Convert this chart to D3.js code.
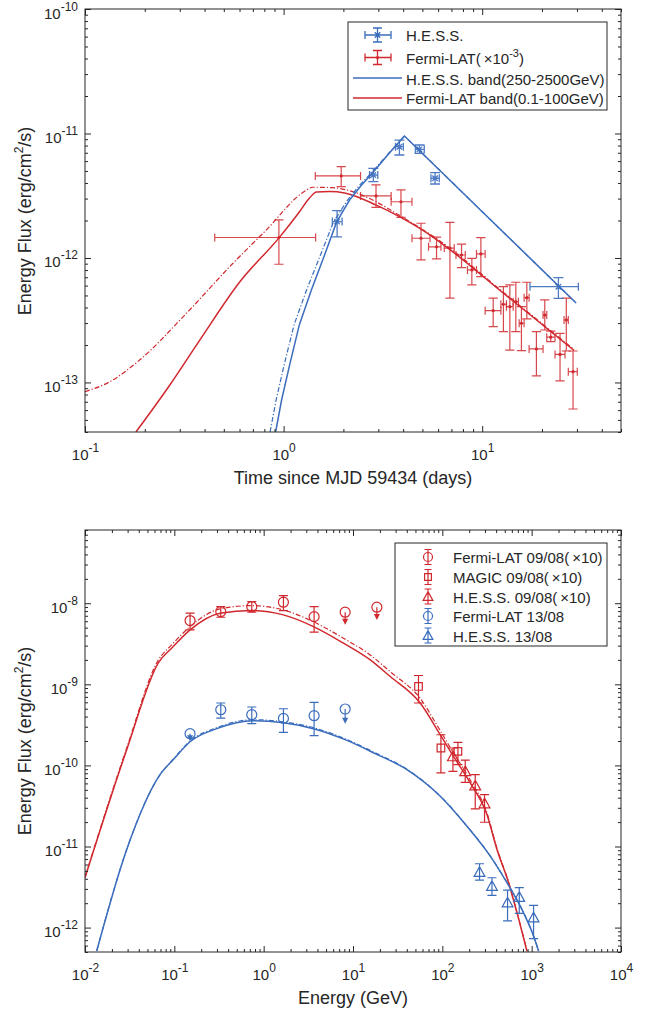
<!DOCTYPE html>
<html>
<head>
<meta charset="utf-8">
<script src="https://cdn.jsdelivr.net/npm/d3@7"></script>
<style>
  body { margin: 0; background: #fff; }
  text { font-family: "Liberation Sans", Arial, Helvetica, sans-serif; }
</style>
</head>
<body>
<svg id="chart" width="660" height="1015"></svg>
<script>
// ---------- top panel: light curve ----------
const hessT   = [1.86, 2.83, 3.83, 4.83, 5.79, 24.2];
const hessTlo = [1.76, 2.71, 3.66, 4.61, 5.52, 17.4];
const hessThi = [1.97, 2.98, 4.01, 5.11, 6.08, 30.5];
const hessF   = [1.96e-12, 4.64e-12, 7.83e-12, 7.46e-12, 4.37e-12, 5.88e-13];
const hessFlo = [1.48e-12, 4.10e-12, 6.72e-12, 6.93e-12, 3.93e-12, 4.74e-13];
const hessFhi = [2.40e-12, 5.25e-12, 8.86e-12, 8.08e-12, 4.84e-12, 6.95e-13];

const fermiT   = [0.947, 1.95, 2.92, 3.90, 4.92, 5.89, 6.88, 7.87, 8.87, 9.85, 11.36,
                  12.79, 13.78, 14.77, 15.76, 16.78, 18.75, 20.66, 22.14, 24.66, 26.52, 28.67];
const fermiTlo = [0.45, 1.444, 2.44, 3.48, 4.43, 5.37, 6.44, 7.38, 8.43, 9.36, 10.35,
                  12.42, 13.25, 14.32, 15.35, 16.26, 17.23, 20.25, 21.14, 23.27, 25.83, 27.14];
const fermiThi = [1.45, 2.44, 3.48, 4.43, 5.46, 6.20, 7.23, 8.22, 9.36, 10.35, 12.42,
                  13.25, 14.32, 15.22, 16.26, 17.23, 20.25, 21.14, 23.27, 26.13, 27.14, 30.12];
const fermiF   = [1.46e-12, 4.56e-12, 3.15e-12, 2.83e-12, 1.44e-12, 1.23e-12, 1.20e-12, 1.057e-12,
                  8.01e-13, 1.077e-12, 3.77e-13, 4.25e-13, 4.06e-13, 4.46e-13, 2.99e-13, 4.80e-13,
                  1.86e-13, 3.48e-13, 2.31e-13, 1.68e-13, 3.18e-13, 1.22e-13];
const fermiFlo = [8.9e-13, 3.74e-12, 2.55e-12, 2.12e-12, 9.64e-13, 9.82e-13, 4.75e-13, 8.36e-13,
                  6.07e-13, 7.08e-13, 2.81e-13, 2.56e-13, 1.82e-13, 2.56e-13, 1.80e-13, 3.24e-13,
                  1.13e-13, 2.64e-13, 2.13e-13, 1.03e-13, 1.79e-13, 6.12e-14];
const fermiFhi = [2.02e-12, 5.41e-12, 3.86e-12, 3.52e-12, 1.90e-12, 1.47e-12, 1.93e-12, 1.29e-12,
                  9.94e-13, 1.455e-12, 4.75e-13, 5.88e-13, 6.07e-13, 6.38e-13, 4.06e-13, 6.38e-13,
                  2.56e-13, 4.60e-13, 2.58e-13, 2.48e-13, 4.75e-13, 1.79e-13];

const hessBandT = [0.912, 0.977, 1.072, 1.20, 1.38, 1.61, 1.85, 2.15, 2.47, 2.83, 3.41, 4.06, 29.7];
const hessBandF = [4.0e-14, 7.23e-14, 1.38e-13, 2.90e-13, 5.53e-13, 1.06e-12, 1.95e-12, 2.92e-12,
                   3.86e-12, 4.91e-12, 6.97e-12, 9.55e-12, 4.35e-13];
const hessDashT = [0.855, 0.917, 1.006, 1.129, 1.305, 1.535, 1.784, 2.10, 2.42, 2.80, 3.39, 4.06, 29.7];
const hessDashF = [4.0e-14, 7.23e-14, 1.38e-13, 2.90e-13, 5.53e-13, 1.06e-12, 1.95e-12, 2.92e-12,
                   3.86e-12, 4.91e-12, 6.97e-12, 9.55e-12, 4.35e-13];

const fermiBandT = [0.1805, 0.2674, 0.3784, 0.601, 0.955, 1.20, 1.35, 1.465, 1.70, 2.03, 2.93,
                    3.83, 4.99, 6.59, 12.17, 29.0];
const fermiBandF = [4.0e-14, 9.55e-14, 2.19e-13, 6.41e-13, 1.47e-12, 2.34e-12, 3.03e-12, 3.39e-12,
                    3.42e-12, 3.33e-12, 2.66e-12, 2.15e-12, 1.68e-12, 1.23e-12, 5.56e-13, 1.81e-13];
const fermiDashT = [0.1, 0.1335, 0.189, 0.3245, 0.556, 0.819, 1.25, 1.404, 1.769, 2.15, 2.92,
                    3.83, 6.59, 12.17, 29.0];
const fermiDashF = [8.44e-14, 1.015e-13, 1.52e-13, 3.60e-13, 9.07e-13, 1.68e-12, 3.35e-12, 3.70e-12,
                    3.67e-12, 3.47e-12, 2.83e-12, 2.20e-12, 1.26e-12, 5.65e-13, 1.84e-13];

// ---------- bottom panel: SEDs ----------
const fermi09E   = [0.150, 0.331, 0.736, 1.664, 3.67];
const fermi09F   = [6.11e-9, 7.88e-9, 9.08e-9, 1.029e-8, 6.84e-9];
const fermi09Flo = [4.69e-9, 6.72e-9, 7.75e-9, 8.11e-9, 4.40e-9];
const fermi09Fhi = [7.53e-9, 9.08e-9, 1.046e-8, 1.24e-8, 9.08e-9];
const fermi09UlE  = [8.17, 18.5];
const fermi09UlF  = [7.75e-9, 8.93e-9];
const fermi09UlTo = [5.41e-9, 6.23e-9];

const magic09E   = [54.1, 96.4, 149.5];
const magic09F   = [9.41e-10, 1.64e-10, 1.49e-10];
const magic09Flo = [5.88e-10, 8.08e-11, 1.02e-10];
const magic09Fhi = [1.285e-9, 2.39e-10, 1.92e-10];

const hess09E   = [131.4, 180.4, 233.6, 296.8];
const hess09F   = [1.29e-10, 8.46e-11, 5.64e-11, 3.39e-11];
const hess09Flo = [8.46e-11, 6.19e-11, 2.91e-11, 1.99e-11];
const hess09Fhi = [1.64e-10, 1.16e-10, 7.70e-11, 4.37e-11];

const fermi13E   = [0.331, 0.736, 1.664, 3.67];
const fermi13F   = [4.86e-10, 4.22e-10, 3.80e-10, 4.10e-10];
const fermi13Flo = [3.84e-10, 3.27e-10, 2.55e-10, 2.33e-10];
const fermi13Fhi = [5.88e-10, 5.25e-10, 5.00e-10, 5.98e-10];
const fermi13UlE  = [0.150, 8.17];
const fermi13UlF  = [2.46e-10, 4.96e-10];
const fermi13UlTo = [1.98e-10, 3.27e-10];

const hess13E   = [260.9, 359.3, 537.2, 726.3, 1050];
const hess13F   = [4.83e-12, 3.25e-12, 2.03e-12, 2.38e-12, 1.33e-12];
const hess13Flo = [3.85e-12, 2.50e-12, 1.21e-12, 1.50e-12, 7.32e-13];
const hess13Fhi = [6.13e-12, 4.12e-12, 2.90e-12, 3.11e-12, 1.88e-12];

const sed09E = [0.01, 0.0293, 0.0662, 0.0943, 0.150, 0.325, 0.736, 1.664, 3.61, 7.82, 15.6, 26.1,
                56.5, 94.7, 133.4, 205.3, 315.7, 408.7, 551, 684.5, 886];
const sed09F = [4.12e-12, 1.565e-10, 1.84e-9, 2.82e-9, 4.69e-9, 7.53e-9, 8.15e-9, 7.18e-9, 5.15e-9,
                3.22e-9, 2.00e-9, 1.249e-9, 5.88e-10, 2.39e-10, 1.294e-10, 6.09e-11, 2.48e-11,
                9.20e-12, 3.58e-12, 1.53e-12, 5.11e-13];
const sed09DashF = [4.2e-12, 1.64e-10, 1.99e-9, 3.1e-9, 5.16e-9, 8.5e-9, 9.35e-9, 8.25e-9, 5.9e-9,
                    3.7e-9, 2.3e-9, 1.43e-9, 6.7e-10, 2.68e-10, 1.42e-10, 6.6e-11, 2.6e-11,
                    9.5e-12, 3.65e-12, 1.55e-12, 5.2e-13];
const sed13E = [0.01352, 0.0293, 0.0692, 0.0975, 0.150, 0.2986, 0.767, 1.664, 3.61, 8.17, 17.7,
                40.1, 94.7, 188.5, 343.8, 528.9, 745, 1050, 1195];
const sed13F = [5.15e-13, 9.20e-12, 7.70e-11, 1.18e-10, 1.96e-10, 2.84e-10, 3.56e-10, 3.36e-10,
                2.84e-10, 2.08e-10, 1.40e-10, 8.88e-11, 4.17e-11, 1.78e-11, 7.61e-12, 3.58e-12,
                1.84e-12, 7.88e-13, 5.15e-13];
const sed13DashF = [5.15e-13, 9.2e-12, 7.7e-11, 1.2e-10, 2.0e-10, 2.92e-10, 3.66e-10, 3.45e-10,
                    2.92e-10, 2.13e-10, 1.43e-10, 9.0e-11, 4.2e-11, 1.79e-11, 7.65e-12, 3.6e-12,
                    1.85e-12, 7.9e-13, 5.2e-13];

const red = "#d0282e", blue = "#3b6dbd", ink = "#262626";
const dashDot = "5,2,1.2,2";
const svg = d3.select("#chart");

function logTicks(lo, hi) {
    let major = [], minor = [];
    for (let e = Math.floor(Math.log10(lo)); e <= Math.ceil(Math.log10(hi)); e++) {
        for (let m = 1; m < 10; m++) {
            let v = m * Math.pow(10, e);
            if (v < lo * 0.999 || v > hi * 1.001) continue;
            (m === 1 ? major : minor).push(v);
        }
    }
    return [major, minor];
}

function sup(sel, base, exp, size, raise) {
    sel.append("tspan").text(base);
    sel.append("tspan").attr("font-size", size).attr("dy", -raise).text(exp);
}

function frame(g, x, y, w, h) {
    let [xMaj, xMin] = logTicks(...x.domain());
    let [yMaj, yMin] = logTicks(...y.domain());
    let ax = (axis, tx, ty) => g.append("g")
        .attr("transform", `translate(${tx},${ty})`)
        .call(axis)
        .call(s => s.select(".domain").remove())
        .attr("color", ink).attr("font-size", 15)
        .attr("font-family", "'Liberation Sans', Arial, sans-serif");
    ax(d3.axisBottom(x).tickValues(xMin).tickSize(-3).tickFormat(() => ""), 0, h);
    ax(d3.axisTop(x).tickValues(xMin).tickSize(-3).tickFormat(() => ""), 0, 0);
    ax(d3.axisTop(x).tickValues(xMaj).tickSize(-6).tickFormat(() => ""), 0, 0);
    ax(d3.axisLeft(y).tickValues(yMin).tickSize(-3).tickFormat(() => ""), 0, 0);
    ax(d3.axisRight(y).tickValues(yMin).tickSize(-3).tickFormat(() => ""), w, 0);
    ax(d3.axisRight(y).tickValues(yMaj).tickSize(-6).tickFormat(() => ""), w, 0);

    let bx = ax(d3.axisBottom(x).tickValues(xMaj).tickSize(-6).tickPadding(17).tickFormat(() => ""), 0, h);
    bx.selectAll(".tick text").each(function (d) {
        sup(d3.select(this), "10", Math.round(Math.log10(d)), 12, 8);
    });
    let ly = ax(d3.axisLeft(y).tickValues(yMaj).tickSize(-6).tickPadding(7).tickFormat(() => ""), 0, 0);
    ly.selectAll(".tick text").attr("dy", 9).each(function (d) {
        sup(d3.select(this), "10", Math.round(Math.log10(d)), 12, 8);
    });

    g.append("rect").attr("width", w).attr("height", h)
        .attr("fill", "none").attr("stroke", ink).attr("stroke-width", 1);
}

function errY(cx, y1, y2, c) {
    return `M${cx},${y1}V${y2}M${cx - c},${y1}H${cx + c}M${cx - c},${y2}H${cx + c}`;
}
function errX(cy, x1, x2, c) {
    return `M${x1},${cy}H${x2}M${x1},${cy - c}V${cy + c}M${x2},${cy - c}V${cy + c}`;
}
function asterisk(cx, cy, r) {
    let a = r * 0.72;
    return `M${cx - r},${cy}H${cx + r}M${cx},${cy - r}V${cy + r}` +
        `M${cx - a},${cy - a}L${cx + a},${cy + a}M${cx - a},${cy + a}L${cx + a},${cy - a}`;
}
function ring(cx, cy, r) {
    return `M${cx + r},${cy}A${r},${r},0,1,1,${cx - r},${cy}A${r},${r},0,1,1,${cx + r},${cy}`;
}
function square(cx, cy, s) {
    return `M${cx - s},${cy - s}H${cx + s}V${cy + s}H${cx - s}Z`;
}
function triangle(cx, cy, s) {
    return `M${cx},${cy - s}L${cx + s},${cy + s * 0.8}L${cx - s},${cy + s * 0.8}Z`;
}
function marker(shape, cx, cy, k) {
    if (shape === "circle") return ring(cx, cy, 5 * k);
    if (shape === "square") return square(cx, cy, 3.8 * k);
    return triangle(cx, cy, 5.4 * k);
}

function clipFor(id, w, h) {
    svg.append("defs").append("clipPath").attr("id", id)
        .append("rect").attr("width", w).attr("height", h);
}

function curve(g, x, y, xs, ys, color, dashed, shape) {
    let line = d3.line().x(d => x(d[0])).y(d => y(d[1])).curve(shape || d3.curveMonotoneX);
    g.append("path")
        .datum(d3.zip(xs, ys))
        .attr("d", line)
        .attr("fill", "none")
        .attr("stroke", color)
        .attr("stroke-width", dashed ? 1.2 : 1.5)
        .attr("stroke-dasharray", dashed ? dashDot : null);
}

function yTitle(cy) {
    let t = svg.append("text").attr("transform", `translate(31,${cy}) rotate(-90)`)
        .attr("text-anchor", "middle").attr("font-size", 18).attr("fill", ink);
    t.append("tspan").text("Energy Flux (erg/cm");
    t.append("tspan").attr("font-size", 12).attr("dy", -8).text("2");
    t.append("tspan").attr("dy", 8).text("/s)");
}

// ================= TOP PANEL =================
const W1 = 536, H1 = 423;
const panelTop = svg.append("g").attr("transform", "translate(85,9)");
const x1 = d3.scaleLog().domain([0.1, 50]).range([0, W1]);
const y1 = d3.scaleLog().domain([4e-14, 1e-10]).range([H1, 0]);
clipFor("clipTop", W1, H1);
const plot1 = panelTop.append("g").attr("clip-path", "url(#clipTop)");

curve(plot1, x1, y1, fermiDashT, fermiDashF, red, true);
curve(plot1, x1, y1, fermiBandT, fermiBandF, red, false);
curve(plot1, x1, y1, hessDashT, hessDashF, blue, true, d3.curveLinear);
curve(plot1, x1, y1, hessBandT, hessBandF, blue, false, d3.curveLinear);

// Fermi-LAT points
plot1.selectAll(".fermiErr")
    .data(d3.range(fermiT.length)).enter()
    .append("path")
    .attr("d", i => errY(x1(fermiT[i]), y1(fermiFlo[i]), y1(fermiFhi[i]), 4.6) +
        errX(y1(fermiF[i]), x1(fermiTlo[i]), x1(fermiThi[i]), 4))
    .attr("fill", "none").attr("stroke", red).attr("stroke-width", 1.2).attr("stroke-opacity", 0.85);
plot1.selectAll(".fermiDot")
    .data(d3.range(fermiT.length)).enter()
    .append("circle")
    .attr("cx", i => x1(fermiT[i])).attr("cy", i => y1(fermiF[i]))
    .attr("r", 1.6).attr("fill", red);

// H.E.S.S. points
plot1.selectAll(".hessErr")
    .data(d3.range(hessT.length)).enter()
    .append("path")
    .attr("d", i => errY(x1(hessT[i]), y1(hessFlo[i]), y1(hessFhi[i]), 5) +
        errX(y1(hessF[i]), x1(hessTlo[i]), x1(hessThi[i]), 4) +
        asterisk(x1(hessT[i]), y1(hessF[i]), 3.8))
    .attr("fill", "none").attr("stroke", blue).attr("stroke-width", 1.3).attr("stroke-opacity", 0.9);

frame(panelTop, x1, y1, W1, H1);

// axis titles
svg.append("text").attr("x", 353).attr("y", 484).attr("text-anchor", "middle")
    .attr("font-size", 18).attr("fill", ink).text("Time since MJD 59434 (days)");
yTitle(221);

// legend
svg.append("rect").attr("x", 348).attr("y", 22).attr("width", 259).attr("height", 88)
    .attr("fill", "#fff").attr("stroke", ink).attr("stroke-width", 1);
svg.append("path")
    .attr("d", errX(35, 365, 391, 4) + errY(377.5, 28, 42, 4.5) + asterisk(377.5, 35, 3.8))
    .attr("fill", "none").attr("stroke", blue).attr("stroke-width", 1.3);
svg.append("path")
    .attr("d", errX(57.5, 365, 391, 4) + errY(377.5, 50.5, 64.5, 4.5))
    .attr("fill", "none").attr("stroke", red).attr("stroke-width", 1.3);
svg.append("circle").attr("cx", 377.5).attr("cy", 57.5).attr("r", 1.6).attr("fill", red);
svg.append("line").attr("x1", 353).attr("x2", 402).attr("y1", 78).attr("y2", 78)
    .attr("stroke", blue).attr("stroke-width", 1.5);
svg.append("line").attr("x1", 353).attr("x2", 402).attr("y1", 98).attr("y2", 98)
    .attr("stroke", red).attr("stroke-width", 1.5);
const legTop = svg.append("g").attr("font-size", 15).attr("fill", ink);
legTop.append("text").attr("x", 406).attr("y", 40.5).text("H.E.S.S.");
const lt2 = legTop.append("text").attr("x", 406).attr("y", 64);
lt2.append("tspan").text("Fermi-LAT(\u2009\u00d710");
lt2.append("tspan").attr("font-size", 11).attr("dy", -7).text("-3");
lt2.append("tspan").attr("dy", 7).text(")");
legTop.append("text").attr("x", 406).attr("y", 84.5).text("H.E.S.S. band(250-2500GeV)");
legTop.append("text").attr("x", 406).attr("y", 104).text("Fermi-LAT band(0.1-100GeV)");

// ================= BOTTOM PANEL =================
const W2 = 536, H2 = 422;
const panelBot = svg.append("g").attr("transform", "translate(85,530)");
const x2 = d3.scaleLog().domain([0.01, 1e4]).range([0, W2]);
const y2 = d3.scaleLog().domain([5e-13, 8e-8]).range([H2, 0]);
clipFor("clipBot", W2, H2);
const plot2 = panelBot.append("g").attr("clip-path", "url(#clipBot)");

curve(plot2, x2, y2, sed09E, sed09DashF, red, true);
curve(plot2, x2, y2, sed09E, sed09F, red, false);
curve(plot2, x2, y2, sed13E, sed13DashF, blue, true);
curve(plot2, x2, y2, sed13E, sed13F, blue, false);

function points(g, E, F, lo, hi, color, shape) {
    g.selectAll(null)
        .data(d3.range(E.length)).enter()
        .append("path")
        .attr("d", i => errY(x2(E[i]), y2(lo[i]), y2(hi[i]), 4.5) +
            marker(shape, x2(E[i]), y2(F[i]), 1))
        .attr("fill", "none").attr("stroke", color).attr("stroke-width", 1.2);
}

function upperLimits(g, E, F, to, color) {
    g.selectAll(null)
        .data(d3.range(E.length)).enter()
        .append("path")
        .attr("d", i => `M${x2(E[i])},${y2(F[i])}V${y2(to[i]) - 4}` + ring(x2(E[i]), y2(F[i]), 5))
        .attr("fill", "none").attr("stroke", color).attr("stroke-width", 1.2);
    g.selectAll(null)
        .data(d3.range(E.length)).enter()
        .append("path")
        .attr("d", i => {
            let cx = x2(E[i]), ty = y2(to[i]);
            return `M${cx},${ty}L${cx + 3},${ty - 6}L${cx - 3},${ty - 6}Z`;
        })
        .attr("fill", color);
}

points(plot2, fermi09E, fermi09F, fermi09Flo, fermi09Fhi, red, "circle");
points(plot2, magic09E, magic09F, magic09Flo, magic09Fhi, red, "square");
points(plot2, hess09E, hess09F, hess09Flo, hess09Fhi, red, "triangle");
points(plot2, fermi13E, fermi13F, fermi13Flo, fermi13Fhi, blue, "circle");
points(plot2, hess13E, hess13F, hess13Flo, hess13Fhi, blue, "triangle");
upperLimits(plot2, fermi09UlE, fermi09UlF, fermi09UlTo, red);
upperLimits(plot2, fermi13UlE, fermi13UlF, fermi13UlTo, blue);

frame(panelBot, x2, y2, W2, H2);

svg.append("text").attr("x", 353).attr("y", 1004).attr("text-anchor", "middle")
    .attr("font-size", 18).attr("fill", ink).text("Energy (GeV)");
yTitle(741);

// legend
svg.append("rect").attr("x", 395).attr("y", 543).attr("width", 212).attr("height", 103)
    .attr("fill", "#fff").attr("stroke", ink).attr("stroke-width", 1);
const legRows = [557, 577, 596.5, 616, 635.5];
const legText = ["Fermi-LAT 09/08(\u2009\u00d710)", "MAGIC 09/08(\u2009\u00d710)",
                 "H.E.S.S. 09/08(\u2009\u00d710)", "Fermi-LAT 13/08", "H.E.S.S. 13/08"];
const legShape = ["circle", "square", "triangle", "circle", "triangle"];
const legColor = [red, red, red, blue, blue];
legRows.forEach((ry, i) => {
    svg.append("path").attr("d", errY(428, ry - 7.5, ry + 7.5, 3.5) + marker(legShape[i], 428, ry, 0.9))
        .attr("fill", "none").attr("stroke", legColor[i]).attr("stroke-width", 1.2);
    svg.append("text").attr("x", 453).attr("y", ry + 6).attr("font-size", 15)
        .attr("fill", ink).text(legText[i]);
});
</script>
</body>
</html>
